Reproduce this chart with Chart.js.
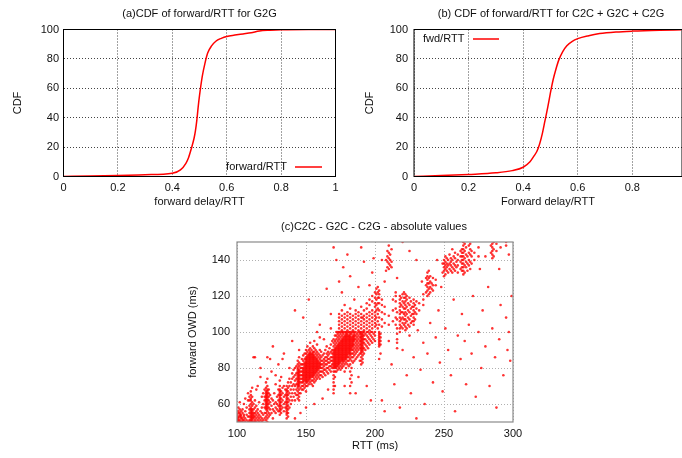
<!DOCTYPE html>
<html><head><meta charset="utf-8">
<script src="https://cdn.jsdelivr.net/npm/chart.js@4.4.1/dist/chart.umd.min.js"></script>
<style>
html,body{margin:0;padding:0;background:#fff;}
body{width:682px;height:458px;position:relative;overflow:hidden;}
canvas{position:absolute;}
</style></head><body>
<canvas id="ca" width="345" height="212" style="left:0;top:0"></canvas>
<canvas id="cb" width="337" height="212" style="left:345px;top:0"></canvas>
<canvas id="cc" width="360" height="246" style="left:170px;top:212px"></canvas>
<script>
// ---------- (a) CDF of forward/RTT for G2G ----------
const ratioA = [0,0.1,0.2,0.3,0.4,0.43,0.45,0.46,0.47,0.48,0.485,0.49,0.495,0.5,0.51,0.52,0.53,0.545,0.56,0.58,0.6,0.63,0.66,0.69,0.72,0.76,0.8,0.9,1.0];
const cdfA   = [0,0.3,0.7,1.2,2.2,4.5,9,13,19,26,31,38,47,55,68,77,84,89,92,94,95.3,96.2,97,97.8,99,99.5,99.8,100,100];
// ---------- (b) CDF of forward/RTT for C2C + G2C + C2G ----------
const ratioB = [0,0.1,0.2,0.3,0.36,0.4,0.425,0.44,0.45,0.46,0.47,0.48,0.49,0.5,0.51,0.52,0.53,0.545,0.56,0.58,0.6,0.64,0.68,0.74,0.8,0.9,0.98];
const cdfB   = [0,0.6,1.4,2.5,4,6.3,10,14,17,22,29,38,47,57,66,73,79,85,89,92,93.8,95.8,97.2,98.3,98.9,99.5,99.8];
// tick labels
const cdfXTicksA = [0,0.2,0.4,0.6,0.8,1];
const cdfXLabelsA = ['0','0.2','0.4','0.6','0.8','1'];
const cdfXTicksB = [0,0.2,0.4,0.6,0.8];
const cdfXLabelsB = ['0','0.2','0.4','0.6','0.8'];
const cdfYTicks = [0,20,40,60,80,100];
// ---------- (c) RTT (ms) vs forward OWD (ms) ----------
const rttTicks = [100,150,200,250,300];
const owdTicks = [60,80,100,120,140];
// columns: [RTT, [OWD values...]]
const lowRttColumns = [
 [100,[50,51,52,54]],[101,[50,51,52,53,55,56,58]],[102,[50,51,53,54,55,57,61]],[103,[50,52,53,54,56]],
 [104,[50,51,52,55,57]],[105,[51,53,54]],[106,[50,52,56,63]],[107,[51,54,58]],[108,[50,53,66]],
 [109,[50,51,53,55,57,59,62,64]],[110,[50,51,52,53,54,55,56,57,58,60,62,63,65,67]],
 [111,[50,51,52,53,54,55,56,57,59,61,64,69]],[112,[50,52,53,54,55,57,60,86]],[113,[50,51,53,55,58,62]],
 [114,[50,52,54,56,59]],[115,[51,53,55,57,70]],[116,[50,52,54,61]],[117,[51,53,56,75]],[118,[50,52,55,58]],
 [119,[51,54,60,66]],[120,[52,55,58,62,64,68]],
 [121,[51,53,55,57,58,59,60,61,62,63,64,65,66,67,69,72]],
 [122,[50,52,54,56,57,58,59,60,61,62,63,64,65,66,67,68,70,74,86]],
 [123,[53,55,58,60,62,64,66,68]],[124,[54,57,61,65]],[125,[55,59,63,78]],[126,[52,57,62]],[127,[56,60,66]],
 [128,[55,58,61,71]],[129,[57,60,64]],[130,[56,59,62,65,68]],
 [131,[54,56,57,58,59,60,61,62,63,64,65,66,67,68,70,73]],[132,[55,57,59,61,63,65,67,75]],
 [133,[58,62,66,69]],[134,[56,60,64,70,88]],[135,[58,61,65,68]],
 [136,[52,54,55,56,57,58,59,60,61,62,63,64,65,66,67,68,70]],[137,[53,55,57,59,61,63,65,67,69,72]],
 [138,[58,62,66,70,74]],[139,[60,64,68,72]],[140,[62,66,70,74,77]],[141,[64,68,71,75,79]],
 [142,[62,66,70,73,76,80]],[143,[65,68,71,74,77,81]]
];
const coreColumns = [
 [144,[63,65,67,69,70,71,72,73,74,75,76,77,78,79,80,82,84]],
 [145,[62,64,66,68,70,71,72,73,74,75,76,77,78,79,81,83,86]],
 [146,[66,69,72,74,76,78,80,82]],[147,[68,70,72,74,76,78,80,82,85]],
 [148,[68,70,72,73,74,75,76,77,78,79,80,82,84,87]],
 [149,[69,71,73,74,75,76,77,78,79,80,81,82,83,85,88]],
 [150,[67,70,72,73,74,75,76,77,78,79,80,81,82,83,84,85,86,88,90]],
 [151,[70,72,73,74,75,76,77,78,79,80,81,82,83,84,85,86,87,89,92]],
 [152,[71,73,74,75,76,77,78,79,80,81,82,83,84,85,86,87,88,90]],
 [153,[72,74,75,76,77,78,79,80,81,82,83,84,85,86,87,88,89,91,94]],
 [154,[71,73,75,76,77,78,79,80,81,82,83,84,85,86,87,88,90]],
 [155,[70,73,75,76,77,78,79,80,81,82,83,84,85,86,87,88,89,92]],
 [156,[72,74,76,77,78,79,80,81,82,83,84,85,86,87,89,91]],
 [157,[73,75,77,78,79,80,81,82,83,84,85,86,88,90]],
 [158,[74,76,78,79,80,81,82,83,84,85,87,89,93]],
 [159,[75,77,79,80,81,82,83,84,86,88]],[160,[74,76,78,80,81,82,83,85,87,90]],
 [161,[76,78,80,82,84,86,89]],[162,[75,78,80,82,84,87]],[163,[77,79,81,83,85,88]],
 [164,[76,79,82,84,86,90]],[165,[78,80,82,84,86,88,92]],[166,[77,80,83,85,87,89]],
 [167,[79,81,83,85,88,91]],[168,[78,81,84,86,89,93]],[169,[80,82,84,86,88,90,95]],
 [170,[66,68,70,72,74,76,78,80,81,82,83,84,85,86,87,88,89,90,92,94,96]],
 [171,[70,75,78,80,81,82,83,84,85,86,87,88,89,90,91,93,95,98]],
 [172,[78,80,81,82,83,84,85,86,87,88,89,90,91,92,94,96,98,100]],
 [173,[79,81,82,83,84,85,86,87,88,89,90,91,92,93,95,97,99,100]],
 [174,[80,82,83,84,85,86,87,88,89,90,91,92,93,94,96,98,100]],
 [175,[79,81,83,84,85,86,87,88,89,90,91,92,93,94,95,97,99,100]],
 [176,[80,82,84,85,86,87,88,89,90,91,92,93,94,95,96,98,100]],
 [177,[81,83,84,85,86,87,88,89,90,91,92,93,94,95,96,97,99,100]],
 [178,[78,82,84,85,86,87,88,89,90,91,92,93,94,95,96,97,98,100]],
 [179,[80,83,85,86,87,88,89,90,91,92,93,94,95,96,97,98,99,100]],
 [180,[82,84,86,87,88,89,90,91,92,93,94,95,96,97,98,99,100]],
 [181,[81,84,86,88,89,90,91,92,93,94,95,96,97,98,100]],
 [182,[66,70,74,78,82,85,87,88,89,90,91,92,93,94,95,96,97,98,99,100]],
 [183,[72,76,80,84,86,88,90,91,92,93,94,95,96,97,99,100]],
 [184,[83,86,88,90,92,93,94,95,96,97,98,100]],[185,[84,87,89,91,93,95,96,97,98,99,100]],
 [186,[85,88,90,92,94,96,98,100]],[187,[86,89,91,93,95,97,99]],[188,[87,90,92,94,96,98,100]],
 [189,[84,88,91,93,95,97,99,100]],
 [190,[82,84,86,88,89,90,91,92,93,94,95,96,97,98,99,100]],
 [191,[83,85,87,89,90,91,92,93,94,95,96,97,98,99,100]],
 [192,[88,91,94,96,98,100]],[193,[90,93,96,99]],[194,[92,95,98,100]],[195,[91,94,97,100]],
 [196,[93,96,99]],[197,[95,98,100]],[198,[94,97,100]],[199,[96,99]],[200,[95,98,100]],
 [203,[92,93,94,95,96,97,98,99,100]],[204,[93,95,97,99]]
];
const upperRowColumns = [
 [174,[102,104,106,108,110]],[176,[101,103,105,107,109,112]],[178,[102,104,106,108,110,115]],
 [180,[101,103,105,107,109,111]],[182,[102,104,106,108,110,113]],[184,[101,103,105,107,109]],
 [186,[102,104,106,108,110,112]],[188,[101,103,105,107,109,111]],[190,[102,104,106,108,110,114]],
 [192,[101,103,105,107,109,112]],[194,[102,104,106,108,110,113,116]],
 [196,[101,103,105,107,109,111,115,118]],[198,[102,104,106,108,110,112,117,120]],
 [200,[103,105,107,109,111,114,116,119,122]],[201,[104,108,112,115,118,121,124]],
 [202,[102,106,110,113,116,119,122,125]],[203,[104,108,112,116,119,121,123]],
 [205,[103,107,111,115,118]],[207,[105,110,114]],[210,[104,109]]
];
const farClusterColumns = [
 [208,[134,140]],[209,[136,139,142,145]],[210,[135,138,141,144,148]],[211,[137,140,143]],[212,[136,139,146]],
 [213,[106,112,118]],[215,[104,108,113,117,120]],[216,[91,94,96,99,102,107,111]],
 [218,[100,102,104,106,108,110,112,114,116,118,120]],[219,[103,107,111,115,119]],
 [220,[102,105,108,111,114,117,121]],[221,[104,107,110,113,116,119,122]],
 [222,[101,103,105,107,109,111,113,115,117,119,121]],[223,[102,106,110,114,118,120]],
 [224,[104,108,112,116]],[225,[103,107,111,115,119]],[226,[105,109,113,117]],[227,[106,110,114]],
 [228,[104,106,108,110,112,114,116,118]],[229,[107,111,115]],[230,[110,113,117]],[232,[112,116]],
 [235,[115,118,121]],[237,[122,126,130]],[238,[120,123,125,127,129,131,133]],[239,[121,124,127,130,134]],
 [240,[122,125,128,131]],[241,[124,127]],[242,[123,126,130]],[244,[126,129]],
 [249,[133,138]],[250,[131,134,136,138,140]],[251,[132,135,137,139,142]],[252,[134,136,138,141]],
 [253,[133,137,140]],[254,[135,138,143]],[255,[134,137,139,141]],[256,[133,136,140,146]],
 [257,[135,138,142]],[258,[134,137,141,144]],[259,[136,139]],[260,[133,137,140,143]],
 [262,[135,139,142,145]],[263,[134,136,138,140,142,144,146]],
 [264,[132,134,136,138,140,142,144,146,148,150]],[265,[133,137,141,145,149]],[266,[136,139,143,147]],
 [267,[134,138,142]],[268,[137,140,144,148]],[269,[135,139,143,146,149]],[270,[138,142,145]],
 [272,[140,144]],[275,[142,147]],[284,[144,148]],[285,[141,143,145,147,149]],[286,[142,146,150]],
 [288,[145,149]],[291,[147]],[295,[148,150]]
];
const outlierPairs = [
 [113,86],[117,80],[126,92],[133,85],[140,95],[142,112],[148,108],[152,118],[158,100],[160,97],[163,96],
 [165,124],[168,110],[168,102],[170,147],[172,140],[174,128],[176,122],[177,136],[180,143],[182,131],
 [185,118],[188,125],[190,147],[191,108],[192,139],[196,126],[198,133],[199,141],[205,140],[207,128],
 [203,85],[204,88],[205,62],[207,56],[210,95],[212,82],[214,71],[215,122],[218,58],[220,90],[223,76],
 [225,98],[226,66],[228,86],[230,52],[231,101],[233,79],[235,94],[236,60],[238,88],[240,105],[242,72],
 [244,97],[246,112],[247,83],[249,67],[251,102],[253,90],[255,76],[257,118],[258,56],[260,98],[262,85],
 [263,110],[265,95],[266,71],[268,104],[270,88],[271,120],[273,64],[275,100],[277,80],[278,112],[280,92],
 [282,125],[283,70],[285,102],[287,86],[288,58],[290,96],[291,115],[293,76],[295,108],[296,90],[298,84],
 [299,120],[297,100],[245,140],[248,125],[276,135],[280,142],[290,135],[297,143],[225,145],[230,140],
 [234,128],[216,130],[220,150],[188,75],[194,70],[197,62],[186,66],[178,70],[166,68],[162,63],[156,60],
 [150,58],[146,55],[142,52],[128,76],[124,85],[118,64],[114,68],[108,62],[105,60],[156,95],[160,104],
 [145,90],[138,80],[130,82]
];

// ---------- helpers ----------
const FONT = {family: "'Liberation Sans', Arial, Helvetica, sans-serif", size: 11};
const TXT = '#111';
Chart.defaults.font.family = FONT.family;
Chart.defaults.font.size = 11;
Chart.defaults.color = TXT;

function columnsToPoints(cols) {
  const pts = [];
  for (const [x, ys] of cols) for (const y of ys) pts.push({x, y});
  return pts;
}
function toXY(xs, ys) { return xs.map((x, i) => ({x, y: ys[i]})); }

const decorPlugin = {
  id: 'decor',
  afterDraw(chart, args, o) {
    const {ctx, chartArea: a} = chart;
    ctx.save();
    ctx.strokeStyle = o.frameColor; ctx.lineWidth = o.frameWidth;
    ctx.strokeRect(a.left, a.top, a.right - a.left, a.bottom - a.top);
    ctx.font = FONT.size + 'px ' + FONT.family;
    ctx.fillStyle = TXT; ctx.textBaseline = 'middle';
    if (o.title) { ctx.textAlign = 'center'; ctx.fillText(o.title.text, o.title.x, o.title.y); }
    if (o.key) {
      const k = o.key;
      ctx.textAlign = k.align; ctx.fillText(k.text, k.tx, k.y);
      ctx.strokeStyle = '#ff0000'; ctx.lineWidth = 1.5;
      ctx.beginPath(); ctx.moveTo(k.x0, k.y); ctx.lineTo(k.x1, k.y); ctx.stroke();
    }
    ctx.restore();
  }
};

function fixedTicks(vals) {
  return function (scale) { scale.ticks = vals.map(v => ({value: v})); };
}

function cdfChart(id, xs, ys, xMax, xTicks, xLabels, xTitle, yW, xH, padTop, padRight, yTitlePad, yTickPad, decor) {
  return new Chart(document.getElementById(id), {
    type: 'line',
    data: {datasets: [{data: toXY(xs, ys), borderColor: '#ff0000', borderWidth: 1.5, pointRadius: 0,
      tension: 0.4, cubicInterpolationMode: 'monotone', fill: false}]},
    plugins: [decorPlugin],
    options: {
      responsive: false, animation: false, events: [],
      layout: {padding: {top: padTop, right: padRight, left: 0, bottom: 0}},
      plugins: {legend: {display: false}, tooltip: {enabled: false}, decor},
      scales: {
        x: {type: 'linear', min: 0, max: xMax,
          afterBuildTicks: fixedTicks(xTicks), afterFit(s) { s.height = xH; },
          ticks: {padding: 5, maxRotation: 0, autoSkip: false, callback: (v, i) => xLabels[i], font: FONT, color: TXT},
          grid: {color: '#444', lineWidth: 1, drawTicks: false},
          border: {display: false, dash: [1, 2]},
          title: {display: true, text: xTitle, font: FONT, color: TXT, padding: {top: 0, bottom: 3}}},
        y: {type: 'linear', min: 0, max: 100,
          afterBuildTicks: fixedTicks(cdfYTicks), afterFit(s) { s.width = yW; },
          ticks: {padding: yTickPad, font: FONT, color: TXT},
          grid: {color: '#444', lineWidth: 1, drawTicks: false},
          border: {display: false, dash: [1, 2]},
          title: {display: true, text: 'CDF', font: FONT, color: TXT, padding: {top: yTitlePad, bottom: 0}}}
      }
    }
  });
}

cdfChart('ca', ratioA, cdfA, 1, cdfXTicksA, cdfXLabelsA, 'forward delay/RTT', 63.5, 35.5, 29.5, 9.5, 11.8, 4.5, {
  frameColor: '#000', frameWidth: 1,
  title: {text: '(a)CDF of forward/RTT for G2G', x: 199.5, y: 14},
  key: {text: 'forward/RTT', align: 'right', tx: 287, y: 167, x0: 295, x1: 322}
});
cdfChart('cb', ratioB, cdfB, 0.982, cdfXTicksB, cdfXLabelsB, 'Forward delay/RTT', 69, 35.5, 29.5, 0, 18.4, 6, {
  frameColor: '#000', frameWidth: 1,
  title: {text: '(b) CDF of forward/RTT for C2C + G2C + C2G', x: 206, y: 14},
  key: {text: 'fwd/RTT', align: 'left', tx: 78, y: 39, x0: 128, x1: 154}
});

const scatterPoints = columnsToPoints(lowRttColumns)
  .concat(columnsToPoints(coreColumns))
  .concat(columnsToPoints(upperRowColumns))
  .concat(columnsToPoints(farClusterColumns))
  .concat(outlierPairs.map(([x, y]) => ({x, y})));

new Chart(document.getElementById('cc'), {
  type: 'scatter',
  data: {datasets: [{data: scatterPoints, backgroundColor: 'rgba(255,0,0,0.8)', borderWidth: 0,
    pointRadius: 1.3, pointStyle: 'circle'}]},
  plugins: [decorPlugin],
  options: {
    responsive: false, animation: false, events: [],
    layout: {padding: {top: 30, right: 17, left: 0, bottom: 0}},
    plugins: {legend: {display: false}, tooltip: {enabled: false},
      decor: {frameColor: '#8a8a8a', frameWidth: 1.2,
        title: {text: '(c)C2C - G2C - C2G - absolute values', x: 204, y: 15}}},
    scales: {
      x: {type: 'linear', min: 100, max: 300,
        afterBuildTicks: fixedTicks(rttTicks), afterFit(s) { s.height = 36; },
        ticks: {padding: 5, maxRotation: 0, autoSkip: false, font: FONT, color: TXT},
        grid: {color: '#b0b0b0', lineWidth: 1, drawTicks: false},
        border: {display: false, dash: [1, 2]},
        title: {display: true, text: 'RTT (ms)', font: FONT, color: TXT, padding: {top: 0, bottom: 5}}},
      y: {type: 'linear', min: 50, max: 150,
        afterBuildTicks: fixedTicks(owdTicks), afterFit(s) { s.width = 67; },
        ticks: {padding: 7, font: FONT, color: TXT},
        grid: {color: '#b0b0b0', lineWidth: 1, drawTicks: false},
        border: {display: false, dash: [1, 2]},
        title: {display: true, text: 'forward OWD (ms)', font: FONT, color: TXT, padding: {top: 16.4, bottom: 0}}}
    }
  }
});
</script>
</body></html>
